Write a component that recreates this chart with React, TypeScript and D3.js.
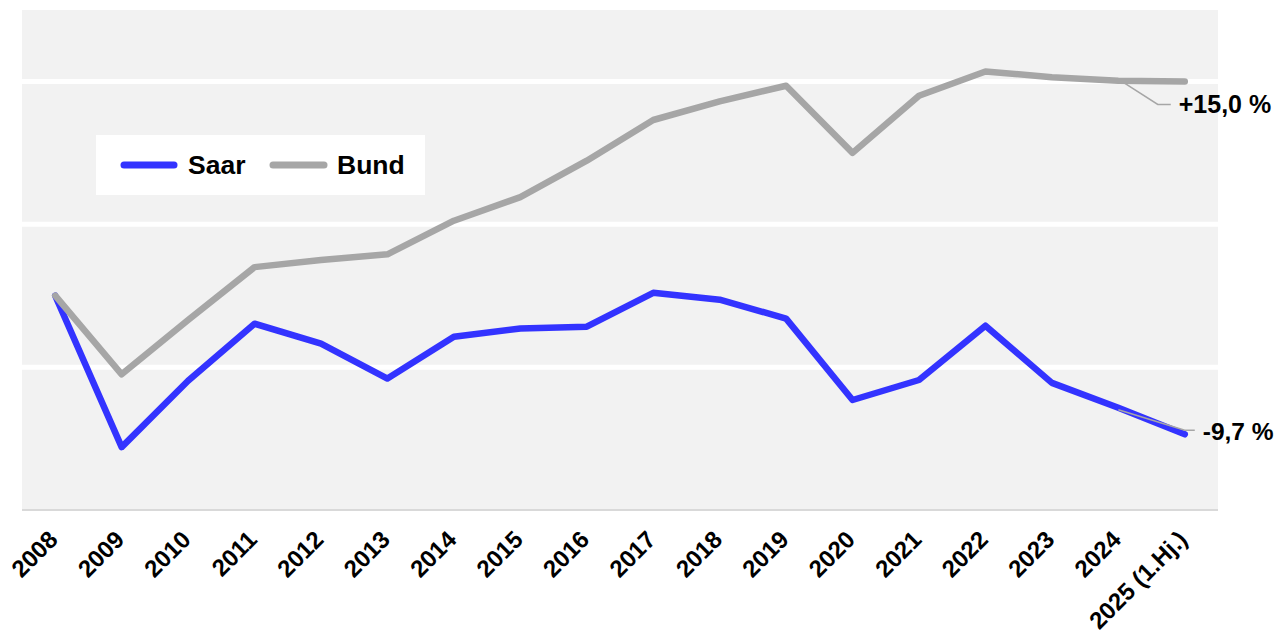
import React from "react";
import * as d3 from "d3";

const years = ["2008","2009","2010","2011","2012","2013","2014","2015","2016","2017","2018","2019","2020","2021","2022","2023","2024","2025 (1.Hj.)"];
const saar = [0, -10.6, -5.95, -1.96, -3.36, -5.8, -2.87, -2.3, -2.17, 0.2, -0.28, -1.6, -7.3, -5.9, -2.1, -6.1, -7.84, -9.7];
const bund = [0, -5.5, -1.7, 2.0, 2.5, 2.9, 5.25, 6.9, 9.45, 12.3, 13.6, 14.7, 10.0, 14.0, 15.7, 15.3, 15.05, 15.0];
const gridValues = [-5, 5, 15];
const seriesNames = ["Saar", "Bund"];
const endLabels = ["+15,0 %", "-9,7 %"];

const W = 1280, H = 632;
const left = 22, right = 1218, top = 10, bottom = 510;
const BLUE = "#3333ff", GRAY = "#a6a6a6";
const FONT = "Liberation Sans, Arial, sans-serif";

export default function App() {
  const x = d3.scaleBand<string>().domain(years).range([left, right]);
  const cx = (i: number) => (x(years[i]) as number) + x.bandwidth() / 2;
  const y = d3.scaleLinear().domain([-15, 20]).range([bottom, top]);
  const line = d3.line<number>().x((_, i) => cx(i)).y((d) => y(d));
  const n = years.length - 1;

  return (
    <div style={{ position: "absolute", left: 0, top: 0 }}>
      <svg width={W} height={H} style={{ display: "block", fontFamily: FONT }}>
        <rect x={left} y={top} width={right - left} height={bottom - top} fill="#f2f2f2" />
        {gridValues.map((g) => (
          <line key={g} x1={left} x2={right} y1={y(g)} y2={y(g)} stroke="#ffffff" strokeWidth={5} />
        ))}
        <line x1={left} x2={right} y1={bottom} y2={bottom} stroke="#d9d9d9" strokeWidth={2} />
        <path d={line(saar) || ""} fill="none" stroke={BLUE} strokeWidth={6.5} strokeLinejoin="round" strokeLinecap="round" />
        <path d={line(bund) || ""} fill="none" stroke={GRAY} strokeWidth={6.5} strokeLinejoin="round" strokeLinecap="round" />
        {/* leader lines */}
        <polyline
          points={`${cx(n - 1) + 5},${y(bund[n]) + 1} ${cx(n) - 27},${y(bund[n]) + 23} ${cx(n) - 14},${y(bund[n]) + 23}`}
          fill="none" stroke={GRAY} strokeWidth={1.5} />
        <polyline
          points={`${cx(n - 1)},${y(saar[n - 1]) + 2} ${cx(n)},${y(saar[n]) - 4} ${cx(n) + 10},${y(saar[n]) - 4}`}
          fill="none" stroke={GRAY} strokeWidth={1.5} />
        <text x={cx(n) - 6} y={y(bund[n]) + 32} fontSize={25} fontWeight="bold" fill="#000">{endLabels[0]}</text>
        <text x={cx(n) + 18} y={y(saar[n]) + 6} fontSize={24.5} fontWeight="bold" fill="#000">{endLabels[1]}</text>
        {/* x axis labels */}
        {years.map((yr, i) => (
          <text key={yr} transform={`translate(${cx(i) + 4},${bottom + 31}) rotate(-45)`} textAnchor="end"
            fontSize={24} fontWeight="bold" fill="#000">{yr}</text>
        ))}
        {/* legend */}
        <rect x={96} y={135} width={329} height={60} fill="#ffffff" />
        <line x1={124} x2={174} y1={165} y2={165} stroke={BLUE} strokeWidth={7} strokeLinecap="round" />
        <text x={188} y={165} dy="0.35em" fontSize={26.5} fontWeight="bold">{seriesNames[0]}</text>
        <line x1={273} x2={324} y1={165} y2={165} stroke={GRAY} strokeWidth={7} strokeLinecap="round" />
        <text x={337} y={165} dy="0.35em" fontSize={26.5} fontWeight="bold">{seriesNames[1]}</text>
      </svg>
    </div>
  );
}
